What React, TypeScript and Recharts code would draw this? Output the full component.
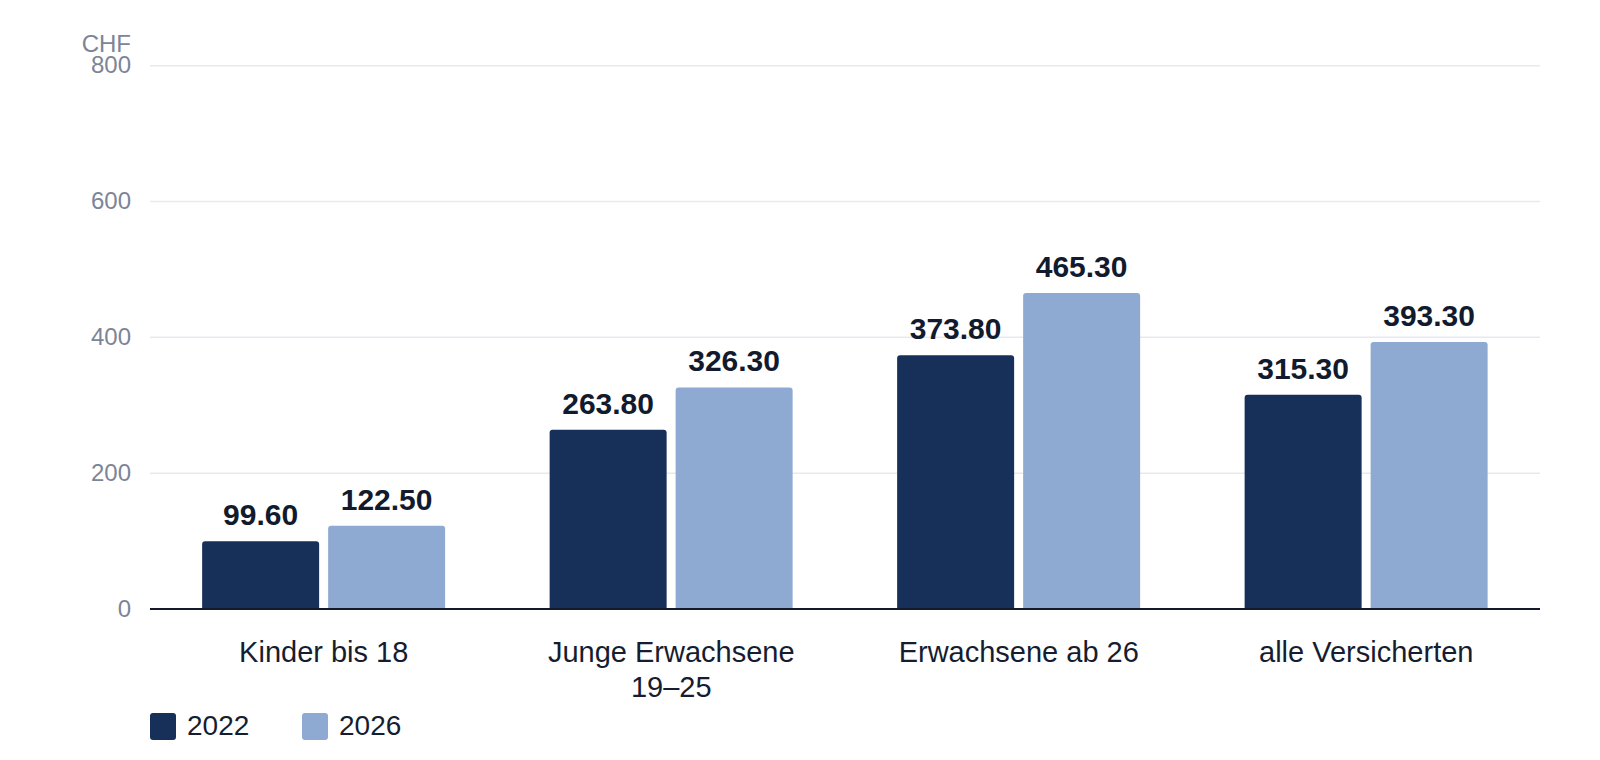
import React from 'react';
import { BarChart, Bar, XAxis, YAxis, CartesianGrid, LabelList, Legend } from 'recharts';

const categories = ['Kinder bis 18', 'Junge Erwachsene\n19–25', 'Erwachsene ab 26', 'alle Versicherten'];
const values2022 = [99.6, 263.8, 373.8, 315.3];
const values2026 = [122.5, 326.3, 465.3, 393.3];
const seriesNames = ['2022', '2026'];
const seriesColors = ['#17305a', '#8eaad2'];
const yTicks = [0, 200, 400, 600, 800];
const unitLabel = 'CHF';

const data = categories.map((c, i) => ({ name: c, v2022: values2022[i], v2026: values2026[i] }));

const FONT = '"Liberation Sans", Arial, Helvetica, sans-serif';

const YTick = (props: any) => {
  const { x, y, payload } = props;
  return (
    <text x={x} y={y} dy={7.5} textAnchor="end" fill="#7c8597" fontSize={24} fontFamily={FONT}>
      {payload.value}
    </text>
  );
};

const XTick = (props: any) => {
  const { x, y, payload } = props;
  const lines = String(payload.value).split('\n');
  return (
    <g>
      {lines.map((l, i) => (
        <text key={i} x={x} y={y + 52.7 + i * 35.3} textAnchor="middle" fill="#161d30" fontSize={29} fontFamily={FONT}>
          {l}
        </text>
      ))}
    </g>
  );
};

const ValueLabel = (props: any) => {
  const { x, y, width, value } = props;
  return (
    <text x={x + width / 2} y={y - 16} textAnchor="middle" fill="#121a2e" fontSize={30} fontWeight="bold" fontFamily={FONT}>
      {Number(value).toFixed(2)}
    </text>
  );
};

const UnitLabel = (props: any) => {
  const { viewBox } = props;
  return (
    <text x={viewBox.x + viewBox.width - 19} y={viewBox.y - 14} textAnchor="end" fill="#7c8597" fontSize={24} fontFamily={FONT}>
      {unitLabel}
    </text>
  );
};

const LegendContent = () => (
  <svg width={420} height={40} style={{ display: 'block' }}>
    {seriesNames.map((n, i) => (
      <g key={n}>
        <rect x={i * 152} y={5} width={26} height={27} rx={3} ry={3} fill={seriesColors[i]} />
        <text x={i * 152 + 37} y={27} fill="#161d30" fontSize={28} fontFamily={FONT}>
          {n}
        </text>
      </g>
    ))}
  </svg>
);

export default function App() {
  return (
    <div style={{ width: 1584, height: 744, fontFamily: FONT }}>
      <BarChart
        width={1584}
        height={744}
        data={data}
        margin={{ top: 57.7, right: 52, left: 0, bottom: 0 }}
        barCategoryGap="15%"
        barGap={9}
      >
        <CartesianGrid vertical={false} stroke="#e6e9ef" strokeWidth={1.5} />
        <YAxis
          width={142}
          domain={[0, 800]}
          ticks={yTicks}
          axisLine={false}
          tickLine={false}
          tickSize={0}
          tickMargin={19}
          tick={<YTick />}
          interval={0}
          label={<UnitLabel />}
        />
        <XAxis
          dataKey="name"
          height={143}
          axisLine={{ stroke: '#141a2b', strokeWidth: 2 }}
          tickLine={false}
          tickSize={0}
          tickMargin={0}
          interval={0}
          tick={<XTick />}
        />
        <Legend
          layout="horizontal"
          verticalAlign="middle"
          align="center"
          content={<LegendContent />}
          wrapperStyle={{ left: 142, top: 700, width: 420, height: 40 }}
        />
        <Bar dataKey="v2022" name={seriesNames[0]} fill={seriesColors[0]} radius={[3, 3, 0, 0]} isAnimationActive={false}>
          <LabelList dataKey="v2022" content={<ValueLabel />} />
        </Bar>
        <Bar dataKey="v2026" name={seriesNames[1]} fill={seriesColors[1]} radius={[3, 3, 0, 0]} isAnimationActive={false}>
          <LabelList dataKey="v2026" content={<ValueLabel />} />
        </Bar>
      </BarChart>
    </div>
  );
}
